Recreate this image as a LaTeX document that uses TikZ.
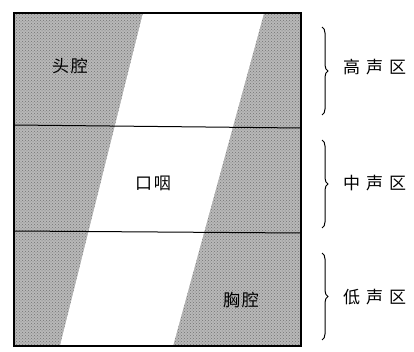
\documentclass[tikz,border=0pt]{standalone}
\usepackage{fontspec}
\newfontfamily\cjk{Noto Sans CJK SC}
\usetikzlibrary{patterns,decorations.pathreplacing}
\tikzset{
  lbl/.style={font=\cjk\fontsize{17}{17}\selectfont, inner sep=0pt},
  rlbl/.style={lbl, anchor=west},
  brc/.style={decorate, decoration={brace, amplitude=6pt}, line width=1pt},
  shade/.style={fill=black!28},
  frame/.style={line width=1.4pt},
  divider/.style={line width=1pt}
}
\begin{document}
\begin{tikzpicture}[x=1pt,y=-1pt]
\useasboundingbox (0,0) rectangle (414,352);
% shaded background
\fill[shade] (14,13) rectangle (301,346);
\fill[pattern=crosshatch dots, pattern color=black!55] (14,13) rectangle (301,346);
% white band
\fill[white] (143,13) -- (264,13) -- (173,346) -- (60,346) -- cycle;
% frame and dividers
\draw[frame] (14,13) rectangle (301,346);
\draw[divider] (14,125) -- (301,128);
\draw[divider] (14,231) -- (301,233);
% inner labels
\node[lbl] (tq) at (70,66) {头\hspace{2pt}腔};
\node[lbl] (ky) at (153,183) {口\hspace{2pt}咽};
\node[lbl] (xq) at (241,300) {胸\hspace{2pt}腔};
% braces
\coordinate (b1t) at (322,27);  \coordinate (b1b) at (322,115);
\coordinate (b2t) at (322,140); \coordinate (b2b) at (322,228);
\coordinate (b3t) at (322,253); \coordinate (b3b) at (322,340);
\draw[brc] (b1t) -- (b1b);
\draw[brc] (b2t) -- (b2b);
\draw[brc] (b3t) -- (b3b);
\node[rlbl] (gs) at (343,67) {高\hspace{6pt}声\hspace{6pt}区};
\node[rlbl] (zs) at (343,183) {中\hspace{6pt}声\hspace{6pt}区};
\node[rlbl] (ds) at (343,297) {低\hspace{6pt}声\hspace{6pt}区};
\end{tikzpicture}
\end{document}
